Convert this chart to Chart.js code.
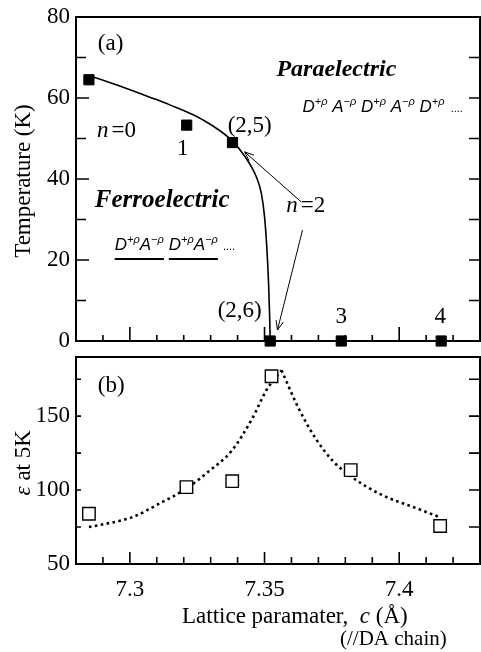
<!DOCTYPE html>
<html><head><meta charset="utf-8">
<script src="https://cdn.jsdelivr.net/npm/chart.js@4/dist/chart.umd.min.js"></script>
<style>
html,body{margin:0;padding:0;background:#fff;}
.wrap{position:relative;width:481px;height:652px;}
canvas{position:absolute;left:0;top:0;}
</style>
</head><body>
<div class="wrap">
<canvas id="cA" width="481" height="652"></canvas>
<canvas id="cB" width="481" height="652"></canvas>
</div>
<script>
// ---- data ----
const latticeC   = [7.2848, 7.3211, 7.3381, 7.3521, 7.3785, 7.4156];
const tcK        = [64.5, 53.3, 49.0, 0, 0, 0];
const tcCurveC   = [7.2863, 7.2952, 7.3074, 7.3148, 7.3271, 7.3377, 7.3432, 7.3469, 7.3488, 7.3500, 7.3509, 7.3515, 7.3519, 7.3521];
const tcCurveK   = [65.2, 63.2, 60.2, 58.3, 54.6, 49.6, 45.1, 40.6, 36.5, 30.7, 22.5, 14.2, 6.0, 0];
const epsC       = [7.2848, 7.3210, 7.3380, 7.3526, 7.3820, 7.4152];
const eps5K      = [84, 102, 106, 177, 113.5, 75.7];
const epsLeftC   = [7.2848, 7.2889, 7.3011, 7.3111, 7.3210, 7.3285, 7.3380, 7.3456, 7.3507, 7.3563];
const epsLeftV   = [75, 76.4, 81.8, 91, 101, 111.5, 127, 149, 167.6, 181];
const epsRightC  = [7.3563, 7.3630, 7.3693, 7.3752, 7.3815, 7.3937, 7.4063, 7.4148];
const epsRightV  = [181, 154, 134, 120, 110, 96.6, 87.8, 81.8];
const tempTicks  = [0, 20, 40, 60, 80];
const tempMinor  = [10, 30, 50, 70];
const epsTicks   = [50, 100, 150];
const epsMinor   = [75, 125, 175];
const cTicks     = [7.30, 7.35, 7.40];
const cTickLabels= ['7.3', '7.35', '7.4'];
const cMinor     = [7.29, 7.31, 7.32, 7.33, 7.34, 7.36, 7.37, 7.38, 7.39, 7.41, 7.42];

const SERIF = '"Liberation Serif", "Times New Roman", serif';
const SANS  = '"Liberation Sans", Arial, sans-serif';
const pts = (xs, ys) => xs.map((x, i) => ({x, y: ys[i]}));

function txt(ctx, s, x, y, font, align) {
  ctx.font = font; ctx.textAlign = align || 'left'; ctx.textBaseline = 'alphabetic';
  ctx.fillStyle = '#000'; ctx.fillText(s, x, y);
}
function rich(ctx, x, y, parts) {
  ctx.textAlign = 'left'; ctx.textBaseline = 'alphabetic'; ctx.fillStyle = '#000';
  for (const p of parts) { ctx.font = p.f; ctx.fillText(p.t, x, y + (p.dy || 0)); x += ctx.measureText(p.t).width + (p.gap || 0); }
  return x;
}
function arrow(ctx, x1, y1, x2, y2) {
  const a = Math.atan2(y2 - y1, x2 - x1), h = 10, w = 0.38;
  ctx.strokeStyle = '#000'; ctx.lineWidth = 1;
  ctx.beginPath(); ctx.moveTo(x1, y1); ctx.lineTo(x2, y2);
  ctx.moveTo(x2 - h * Math.cos(a - w), y2 - h * Math.sin(a - w)); ctx.lineTo(x2, y2);
  ctx.lineTo(x2 - h * Math.cos(a + w), y2 - h * Math.sin(a + w));
  ctx.stroke();
}

function frameAndTicks(chart, yMajor, yMinor, len) {
  const ctx = chart.ctx, ca = chart.chartArea, xs = chart.scales.x, ys = chart.scales.y;
  ctx.save();
  ctx.strokeStyle = '#000'; ctx.lineWidth = 2;
  ctx.strokeRect(ca.left, ca.top, ca.right - ca.left, ca.bottom - ca.top);
  ctx.lineWidth = 1.6;
  ctx.beginPath();
  for (const v of yMajor) { const p = ys.getPixelForValue(v);
    ctx.moveTo(ca.left, p); ctx.lineTo(ca.left + len.yl, p); ctx.moveTo(ca.right, p); ctx.lineTo(ca.right - len.yr, p); }
  for (const v of yMinor) { const p = ys.getPixelForValue(v);
    ctx.moveTo(ca.left, p); ctx.lineTo(ca.left + len.ylm, p); ctx.moveTo(ca.right, p); ctx.lineTo(ca.right - len.yr, p); }
  for (const v of cTicks) { const p = xs.getPixelForValue(v); ctx.moveTo(p, ca.bottom); ctx.lineTo(p, ca.bottom - len.xM); }
  for (const v of cMinor) { const p = xs.getPixelForValue(v); ctx.moveTo(p, ca.bottom); ctx.lineTo(p, ca.bottom - len.xm); }
  ctx.stroke();
  ctx.restore();
}

const topPlugin = {
  id: 'topDeco',
  afterDatasetsDraw(chart) {
    frameAndTicks(chart, tempTicks, tempMinor, {yl: 13, ylm: 10, yr: 11, xM: 14, xm: 6});
    const ctx = chart.ctx, xs = chart.scales.x, ys = chart.scales.y, ca = chart.chartArea;
    const X = v => xs.getPixelForValue(v), Y = v => ys.getPixelForValue(v);
    ctx.save();
    const F = SERIF;
    txt(ctx, '(a)', X(7.2881), Y(71.8), '23px ' + F);
    txt(ctx, 'Paraelectric', X(7.3544), Y(65.4), 'italic bold 24px ' + F);
    txt(ctx, 'Ferroelectric', X(7.2870), Y(33.1), 'italic bold 25px ' + F);
    // D A chains
    const big = 'italic 17px ' + SANS, sup = 'italic 11px ' + SANS, up = -7;
    rich(ctx, X(7.3641), Y(56.5), [
      {t:'D', f:big}, {t:'+ρ', f:sup, dy:up}, {t:' A', f:big}, {t:'−ρ', f:sup, dy:up},
      {t:' D', f:big}, {t:'+ρ', f:sup, dy:up}, {t:' A', f:big}, {t:'−ρ', f:sup, dy:up},
      {t:' D', f:big}, {t:'+ρ', f:sup, dy:up}, {t:'  ....', f:'11px ' + SANS}]);
    let x0 = X(7.2944), yb = Y(22.5);
    ctx.lineWidth = 2; ctx.strokeStyle = '#000';
    for (let k = 0; k < 2; k++) {
      const xe = rich(ctx, x0, yb, [{t:'D', f:big}, {t:'+ρ', f:sup, dy:up}, {t:'A', f:big}, {t:'−ρ', f:sup, dy:up}]);
      ctx.beginPath(); ctx.moveTo(x0, yb + 9); ctx.lineTo(xe, yb + 9); ctx.stroke();
      x0 = xe + 5;
    }
    rich(ctx, x0, yb, [{t:'....', f:'11px ' + SANS}]);
    // labels
    rich(ctx, X(7.2878), Y(50.4), [{t:'n', f:'italic 23px ' + F, gap: 3}, {t:'=0', f:'23px ' + F}]);
    txt(ctx, '1', X(7.3196), Y(45.9), '23px ' + F, 'center');
    txt(ctx, '(2,5)', X(7.3363), Y(51.6), '23px ' + F);
    rich(ctx, X(7.3581), Y(31.9), [{t:'n', f:'italic 23px ' + F, gap: 3}, {t:'=2', f:'23px ' + F}]);
    txt(ctx, '(2,6)', X(7.3326), Y(5.9), '23px ' + F);
    txt(ctx, '3', X(7.3785), Y(4.4), '23px ' + F, 'center');
    txt(ctx, '4', X(7.4152), Y(4.4), '23px ' + F, 'center');
    arrow(ctx, X(7.3637), Y(34.3), X(7.3426), Y(46.7));
    arrow(ctx, X(7.3641), Y(27.4), X(7.3548), Y(2.7));
    // y title
    ctx.translate(22, (ca.top + ca.bottom) / 2 + 2); ctx.rotate(-Math.PI / 2);
    txt(ctx, 'Temperature (K)', 0, 8, '23px ' + F, 'center');
    ctx.restore();
  }
};

const botPlugin = {
  id: 'botDeco',
  afterDatasetsDraw(chart) {
    frameAndTicks(chart, epsTicks, epsMinor, {yl: 5, ylm: 5, yr: 11, xM: 12, xm: 7});
    const ctx = chart.ctx, xs = chart.scales.x, ys = chart.scales.y, ca = chart.chartArea;
    const X = v => xs.getPixelForValue(v), Y = v => ys.getPixelForValue(v);
    ctx.save();
    const F = SERIF;
    txt(ctx, '(b)', X(7.2881), Y(166.2), '23px ' + F);
    // x title
    rich(ctx, ca.left + 106, ca.bottom + 59, [{t:'Lattice paramater,  ', f:'23px ' + F}, {t:'c', f:'italic 23px ' + F}, {t:' (Å)', f:'23px ' + F}]);
    txt(ctx, '(//DA chain)', ca.left + 264, ca.bottom + 81, '21px ' + F);
    // y title
    ctx.translate(22, (ca.top + ca.bottom) / 2 + 2); ctx.rotate(-Math.PI / 2);
    ctx.font = '23px ' + F;
    const w = ctx.measureText('ε at 5K').width;
    rich(ctx, -w / 2, 8, [{t:'ε', f:'italic 23px ' + F}, {t:' at 5K', f:'23px ' + F}]);
    ctx.restore();
  }
};

const baseOpts = (ymin, ymax, yTicks, pad, xHeight, showX) => ({
  responsive: false, animation: false, clip: false,
  layout: {padding: pad, autoPadding: false},
  plugins: {legend: {display: false}, tooltip: {enabled: false}},
  scales: {
    x: {type: 'linear', min: 7.28, max: 7.43,
        afterFit: s => { s.height = xHeight; s.paddingLeft = 0; s.paddingRight = 0; },
        afterBuildTicks: s => { s.ticks = cTicks.map(v => ({value: v})); },
        ticks: {display: showX, color: '#000', font: {family: SERIF, size: 23}, padding: 12,
                maxRotation: 0, autoSkip: false,
                callback: (v) => { const i = cTicks.findIndex(t => Math.abs(t - v) < 1e-9); return i >= 0 ? cTickLabels[i] : ''; }},
        grid: {display: false, drawTicks: false}, border: {display: false}},
    y: {type: 'linear', min: ymin, max: ymax,
        afterFit: s => { s.width = 76; s.paddingTop = 0; s.paddingBottom = 0; },
        afterBuildTicks: s => { s.ticks = yTicks.map(v => ({value: v})); },
        ticks: {color: '#000', font: {family: SERIF, size: 23}, padding: 6},
        grid: {display: false, drawTicks: false}, border: {display: false}}
  }
});

new Chart(document.getElementById('cA'), {
  type: 'scatter',
  data: {datasets: [
    {data: pts(tcCurveC, tcCurveK), showLine: true, borderColor: '#000', borderWidth: 1.6,
     pointRadius: 0, cubicInterpolationMode: 'monotone', clip: false, order: 2},
    {data: pts(latticeC, tcK), pointStyle: 'rect', pointRadius: 7.2, backgroundColor: '#000',
     borderColor: '#000', borderWidth: 1, clip: false, order: 1}
  ]},
  options: baseOpts(0, 80, tempTicks, {left: 0, right: 1, top: 17, bottom: 311}, 0, false),
  plugins: [topPlugin]
});

new Chart(document.getElementById('cB'), {
  type: 'scatter',
  data: {datasets: [
    {data: pts(epsLeftC, epsLeftV), showLine: true, borderColor: '#000', borderWidth: 2.6,
     borderDash: [2.6, 3.4], pointRadius: 0, cubicInterpolationMode: 'monotone', clip: false, order: 2},
    {data: pts(epsRightC, epsRightV), showLine: true, borderColor: '#000', borderWidth: 2.6,
     borderDash: [2.6, 3.4], pointRadius: 0, cubicInterpolationMode: 'monotone', clip: false, order: 2},
    {data: pts(epsC, eps5K), pointStyle: 'rect', pointRadius: 8.8, backgroundColor: '#fff',
     borderColor: '#000', borderWidth: 1.4, clip: false, order: 1}
  ]},
  options: baseOpts(50, 190, epsTicks, {left: 0, right: 1, top: 357, bottom: 0}, 88, true),
  plugins: [botPlugin]
});
</script>
</body></html>
